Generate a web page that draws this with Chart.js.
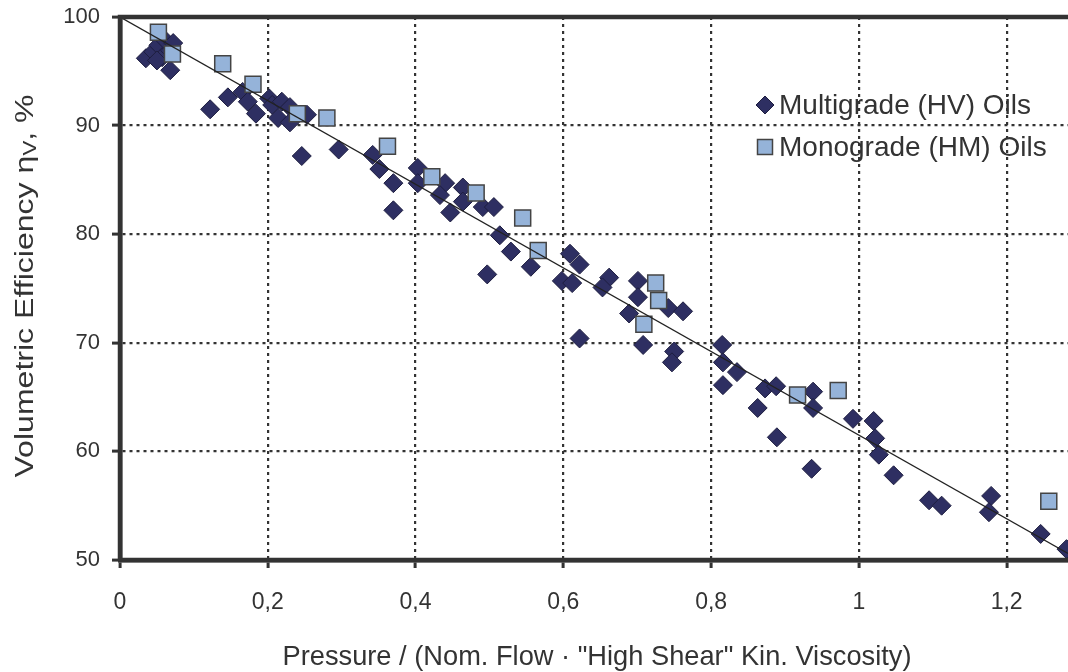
<!DOCTYPE html>
<html>
<head>
<meta charset="utf-8">
<script src="https://cdn.jsdelivr.net/npm/chart.js@4/dist/chart.umd.min.js"></script>
<style>
  html, body { margin: 0; padding: 0; background: #ffffff; }
  #wrap { width: 1068px; height: 672px; position: relative; }
</style>
</head>
<body>
<div id="wrap"><canvas id="c" width="1068" height="672"></canvas></div>
<script>
// ---- data ----
const multigradeX = [0.035,0.045,0.052,0.057,0.062,0.068,0.072,0.068,0.050,
  0.122,0.146,0.166,0.173,0.184,0.202,0.206,0.219,0.230,0.214,0.230,0.253,0.246,0.296,
  0.342,0.351,0.370,0.370,0.403,0.403,0.440,0.433,0.447,0.464,0.464,0.491,0.506,0.514,0.529,0.497,0.556,
  0.609,0.622,0.598,0.612,0.622,0.662,0.653,0.701,0.701,0.689,0.742,0.762,0.708,0.750,0.747,
  0.815,0.816,0.816,0.835,0.873,0.888,0.863,0.889,0.938,0.938,0.936,0.992,1.020,1.022,1.027,1.047,1.095,1.112,1.179,1.176,1.246,1.281];
const multigradeY = [96.2,96.8,97.4,96.3,97.8,96.9,97.6,95.1,96.0,
  91.5,92.6,93.1,92.2,91.1,92.5,91.9,92.2,91.7,90.7,90.3,91.0,87.2,87.8,
  87.3,86.0,84.7,82.2,86.1,84.7,84.7,83.6,82.0,84.3,83.0,82.5,82.5,79.9,78.4,76.3,77.0,
  78.2,77.2,75.7,75.5,70.4,76.0,75.1,75.7,74.2,72.7,73.2,72.9,69.8,69.2,68.2,
  69.8,68.2,66.1,67.3,65.8,66.0,64.0,61.3,65.5,64.0,58.4,63.0,62.8,61.2,59.7,57.8,55.5,55.0,55.9,54.4,52.4,51.0];
const monogradeX = [0.052,0.071,0.139,0.180,0.240,0.280,0.362,0.422,0.482,0.545,0.566,0.725,0.729,0.709,0.917,0.972,1.257];
const monogradeY = [98.6,96.6,95.7,93.8,91.1,90.7,88.1,85.3,83.8,81.5,78.5,75.5,73.9,71.7,65.2,65.6,55.4];
const fitX = [0, 1.283];
const fitY = [100, 50.6];
const xTickValues = [0, 0.2, 0.4, 0.6, 0.8, 1, 1.2];
const xTickLabels = ['0', '0,2', '0,4', '0,6', '0,8', '1', '1,2'];
const yTickValues = [50, 60, 70, 80, 90, 100];
const seriesNames = ['Multigrade (HV) Oils', 'Monograde (HM) Oils'];
const xTitle = 'Pressure / (Nom. Flow · "High Shear" Kin. Viscosity)';
const yTitleParts = ['Volumetric Efficiency η', 'V', ', %'];

const toPts = (xs, ys) => xs.map((x, i) => ({ x: x, y: ys[i] }));

const INK = '#333333';
const NAVY = '#2e2f62';
const LIGHT = '#95b3d9';
const FONT = '"Liberation Sans", Arial, sans-serif';

const overlay = {
  id: 'overlay',
  afterDatasetsDraw(chart) {
    const { ctx, chartArea: a } = chart;
    ctx.save();
    // thick frame (top, left, bottom)
    ctx.strokeStyle = INK;
    ctx.lineWidth = 4.5;
    ctx.lineCap = 'butt';
    ctx.beginPath();
    ctx.moveTo(a.left, a.bottom);
    ctx.lineTo(a.left, a.top);
    ctx.lineTo(a.right + 3, a.top);
    ctx.moveTo(a.left - 2, a.bottom);
    ctx.lineTo(a.right + 3, a.bottom);
    ctx.stroke();

    // legend inside plot
    ctx.font = '28px ' + FONT;
    ctx.textBaseline = 'middle';
    const lx = 765, ly1 = 105, ly2 = 147;
    ctx.beginPath();
    ctx.moveTo(lx - 9, ly1); ctx.lineTo(lx, ly1 - 9); ctx.lineTo(lx + 9, ly1); ctx.lineTo(lx, ly1 + 9); ctx.closePath();
    ctx.fillStyle = NAVY; ctx.fill();
    ctx.lineWidth = 1; ctx.strokeStyle = '#1e1e40'; ctx.stroke();
    ctx.beginPath();
    ctx.rect(lx - 7.5, ly2 - 7.5, 15, 15);
    ctx.fillStyle = LIGHT; ctx.fill();
    ctx.lineWidth = 1.5; ctx.strokeStyle = '#444444'; ctx.stroke();
    ctx.fillStyle = INK;
    ctx.textAlign = 'left';
    ctx.fillText(chart.data.datasets[0].label, 779, ly1 + 1);
    ctx.fillText(chart.data.datasets[1].label, 779, ly2 + 1);
    ctx.restore();
  },
  afterDraw(chart) {
    const { ctx } = chart;
    // x title
    ctx.save();
    ctx.fillStyle = INK;
    ctx.font = '28px ' + FONT;
    ctx.textAlign = 'center';
    ctx.textBaseline = 'alphabetic';
    const wX = ctx.measureText(xTitle).width;
    ctx.translate(597, 665);
    ctx.scale(629 / wX, 1);
    ctx.fillText(xTitle, 0, 0);
    ctx.restore();

    // y title with subscript
    ctx.save();
    ctx.fillStyle = INK;
    ctx.translate(33, 286);
    ctx.rotate(-Math.PI / 2);
    const big = '26px ' + FONT;
    const small = '18px ' + FONT;
    ctx.textBaseline = 'alphabetic';
    ctx.font = big; const w1 = ctx.measureText(yTitleParts[0]).width;
    ctx.font = small; const w2 = ctx.measureText(yTitleParts[1]).width;
    ctx.font = big; const w3 = ctx.measureText(yTitleParts[2]).width;
    const total = w1 + w2 + w3;
    ctx.scale(383 / total, 1);
    const x0 = -total / 2;
    ctx.textAlign = 'left';
    ctx.font = big; ctx.fillText(yTitleParts[0], x0, 0);
    ctx.font = small; ctx.fillText(yTitleParts[1], x0 + w1, 3);
    ctx.font = big; ctx.fillText(yTitleParts[2], x0 + w1 + w2, 0);
    ctx.restore();
  }
};

new Chart(document.getElementById('c'), {
  type: 'scatter',
  data: {
    datasets: [
      {
        label: seriesNames[0],
        data: toPts(multigradeX, multigradeY),
        pointStyle: 'rectRot',
        pointRadius: 9.5,
        backgroundColor: NAVY,
        borderColor: '#1e1e40',
        borderWidth: 1,
        order: 2
      },
      {
        label: seriesNames[1],
        data: toPts(monogradeX, monogradeY),
        pointStyle: 'rect',
        pointRadius: 11.3,
        backgroundColor: LIGHT,
        borderColor: '#444444',
        borderWidth: 1.5,
        order: 1
      },
      {
        label: 'fit',
        type: 'line',
        data: toPts(fitX, fitY),
        borderColor: '#222222',
        borderWidth: 1.3,
        pointRadius: 0,
        fill: false,
        order: 0
      }
    ]
  },
  options: {
    responsive: false,
    animation: false,
    devicePixelRatio: 1,
    layout: { autoPadding: false, padding: { top: 17, right: 0, left: 0, bottom: 0 } },
    plugins: {
      legend: { display: false },
      tooltip: { enabled: false },
      title: { display: false }
    },
    scales: {
      x: {
        type: 'linear',
        min: 0,
        max: 1.283,
        afterFit(s) { s.height = 112; s.paddingLeft = 0; s.paddingRight = 0; },
        afterBuildTicks(s) { s.ticks = xTickValues.map(v => ({ value: v })); },
        ticks: {
          includeBounds: false,
          autoSkip: false,
          maxRotation: 0,
          color: INK,
          padding: 21,
          font: { family: FONT, size: 23 },
          callback: (v) => { const i = xTickValues.indexOf(v); return i >= 0 ? xTickLabels[i] : ''; }
        },
        grid: {
          color: (ctx) => (ctx.tick && ctx.tick.value === 0) ? 'rgba(0,0,0,0)' : INK,
          lineWidth: 2.2,
          tickColor: INK,
          tickWidth: 3,
          tickLength: 8,
          tickBorderDash: [],
          drawTicks: true
        },
        border: { display: true, color: INK, width: 4.5, dash: [3, 4] }
      },
      y: {
        type: 'linear',
        min: 50,
        max: 100,
        afterFit(s) { s.width = 120; s.paddingTop = 0; s.paddingBottom = 0; },
        afterBuildTicks(s) { s.ticks = yTickValues.map(v => ({ value: v })); },
        ticks: {
          color: INK,
          padding: 12,
          font: { family: FONT, size: 22 }
        },
        grid: {
          color: (ctx) => (ctx.tick && (ctx.tick.value === 100 || ctx.tick.value === 50)) ? 'rgba(0,0,0,0)' : INK,
          lineWidth: 2.2,
          tickColor: INK,
          tickWidth: 3,
          tickLength: 8,
          tickBorderDash: [],
          drawTicks: true
        },
        border: { display: true, color: INK, width: 4.5, dash: [3, 4] }
      }
    }
  },
  plugins: [overlay]
});
</script>
</body>
</html>
